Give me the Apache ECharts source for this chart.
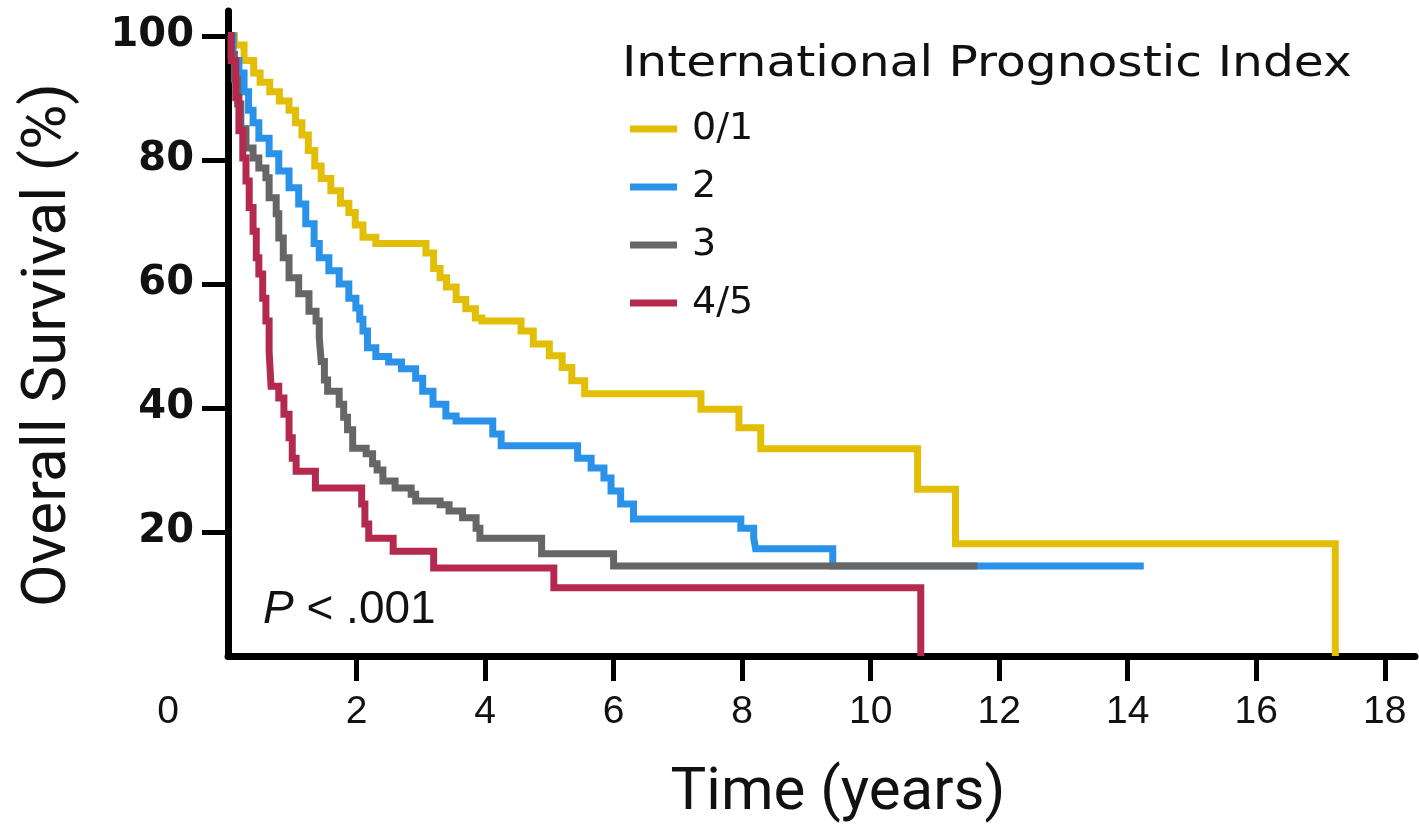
<!DOCTYPE html>
<html><head><meta charset="utf-8">
<script src="https://cdn.jsdelivr.net/npm/echarts@6/dist/echarts.min.js"></script>
<style>html,body{margin:0;padding:0;background:#fff}#c{width:1419px;height:829px}</style>
</head><body><div id="c"></div>
<script>
const xTicks = [2, 4, 6, 8, 10, 12, 14, 16, 18];
const yTicks = [20, 40, 60, 80, 100];
const groups = ['0/1', '2', '3', '4/5'];
const colors = ['#E3BE06', '#2A92E8', '#666666', '#B42A4F'];

const t01 = [0, 0.1, 0.25, 0.4, 0.5, 0.65, 0.8, 0.95, 1.05, 1.15, 1.25, 1.35, 1.45, 1.6, 1.75, 1.88, 1.98, 2.1, 2.3, 3.08, 3.2, 3.3, 3.4, 3.55, 3.7, 3.85, 3.95, 4.56, 4.75, 5.0, 5.2, 5.35, 5.55, 7.36, 7.95, 8.29, 10.73, 11.32, 17.23];
const s01 = [100, 98.5, 96, 94, 92.5, 91, 89.5, 88, 86, 84, 81.5, 79, 77, 75, 73, 71.5, 69.5, 67.5, 66.5, 65, 62.5, 61, 59.5, 57.5, 56, 54.5, 54, 52.4, 50.3, 48.4, 46.5, 44.4, 42.3, 39.8, 36.8, 33.4, 26.9, 18.1, 0];

const t2 = [0, 0.08, 0.17, 0.25, 0.32, 0.39, 0.48, 0.64, 0.79, 0.95, 1.1, 1.21, 1.34, 1.42, 1.57, 1.73, 1.88, 1.99, 2.05, 2.1, 2.17, 2.3, 2.5, 2.7, 2.92, 3.03, 3.19, 3.39, 3.55, 4.12, 4.25, 5.44, 5.65, 5.85, 5.96, 6.11, 6.31, 7.98, 8.18, 8.21, 9.41, 14.25];
const s2 = [100, 96, 94, 91, 88, 86, 83.5, 81, 78.2, 75.5, 72.9, 69.7, 66.5, 64.2, 62.1, 60, 57.7, 56.1, 54.3, 52.4, 49.7, 48.3, 47.4, 46.3, 44.8, 42.7, 40.6, 38.7, 37.9, 35.8, 33.9, 31.9, 30.3, 28.7, 26.6, 24.5, 22.1, 20.6, 19.0, 17.3, 14.5, 14.5];

const t3 = [0, 0.05, 0.1, 0.15, 0.2, 0.28, 0.39, 0.48, 0.59, 0.64, 0.75, 0.79, 0.86, 0.95, 1.1, 1.26, 1.37, 1.42, 1.45, 1.5, 1.55, 1.73, 1.8, 1.86, 1.94, 2.15, 2.25, 2.32, 2.41, 2.6, 2.85, 2.92, 3.3, 3.44, 3.65, 3.86, 3.92, 4.88, 6.0, 11.66];
const s3 = [100, 97, 93, 89, 85, 81.9, 80.3, 78.7, 77.1, 73.9, 71.3, 67.4, 64.2, 61, 58.4, 55.6, 54, 51.3, 47.5, 44.5, 42.7, 40.6, 38.5, 36.5, 33.5, 32.6, 31, 30, 28.2, 27.1, 26.1, 25, 24.4, 23.4, 22.3, 20.6, 19.0, 16.5, 14.5, 14.5];

const t45 = [0, 0.05, 0.12, 0.17, 0.23, 0.28, 0.33, 0.39, 0.44, 0.48, 0.54, 0.59, 0.64, 0.67, 0.79, 0.87, 0.95, 1.0, 1.06, 1.36, 2.08, 2.13, 2.19, 2.57, 3.2, 5.07, 10.78];
const s45 = [100, 96, 90, 84.7, 80.3, 76.6, 72.3, 68.5, 64.2, 61.6, 57.7, 54, 49, 43.5, 41.6, 39, 35.2, 31.9, 29.8, 27.1, 24.5, 21.3, 19.0, 16.9, 14.2, 11.0, 0];

const times = [t01, t2, t3, t45];
const surv = [s01, s2, s3, s45];

const chart = echarts.init(document.getElementById('c'), null, {renderer: 'canvas'});
const series = groups.map((g, i) => ({
  name: g,
  type: 'line',
  step: 'end',
  showSymbol: false,
  symbol: 'none',
  data: times[i].map((t, k) => [t, surv[i][k]]),
  lineStyle: {color: colors[i], width: 7, cap: 'butt', join: 'miter'},
  itemStyle: {color: colors[i]},
  emphasis: {disabled: true},
  z: 2 + i
}));

chart.setOption({
  animation: false,
  backgroundColor: '#fff',
  grid: {left: 228, right: 4, top: 11, bottom: 173, containLabel: false},
  xAxis: {
    type: 'value', min: 0, max: 18.47,
    axisLine: {show: true, onZero: false, lineStyle: {color: '#000', width: 7}},
    axisTick: {show: true, inside: false, length: 25, customValues: xTicks, lineStyle: {color: '#000', width: 5}},
    axisLabel: {customValues: xTicks, margin: 37, fontFamily: 'Liberation Sans', fontSize: 39, color: '#111'},
    splitLine: {show: false},
    name: 'Time (years)', nameLocation: 'middle', nameGap: 108,
    nameTextStyle: {fontFamily: 'Roboto', fontSize: 60, color: '#111', padding: [0, 0, 0, 33]}
  },
  yAxis: {
    type: 'value', min: 0, max: 104,
    axisLine: {show: true, onZero: false, lineStyle: {color: '#000', width: 7}},
    axisTick: {show: true, inside: false, length: 26, customValues: yTicks, lineStyle: {color: '#000', width: 5}},
    axisLabel: {customValues: yTicks, margin: 34, fontFamily: 'DejaVu Sans', fontWeight: 'bold', fontSize: 40, color: '#111'},
    splitLine: {show: false},
    name: 'Overall Survival (%)', nameLocation: 'middle', nameRotate: 90, nameGap: 148,
    nameTextStyle: {fontFamily: 'Roboto', fontSize: 62, color: '#111', padding: [0, 23, 0, 0]}
  },
  legend: {
    data: groups, orient: 'vertical', left: 625, top: 104,
    icon: 'rect', itemWidth: 47, itemHeight: 7, itemGap: 18,
    textStyle: {fontFamily: 'DejaVu Sans', fontSize: 38, lineHeight: 40, color: '#111', padding: [0, 0, 0, 10]},
    selectedMode: false
  },
  graphic: [
    {type: 'text', x: 622, y: 65, scaleX: 1.16,
     style: {text: 'International Prognostic Index', font: '42px "DejaVu Sans"', fill: '#111', align: 'left', verticalAlign: 'middle'}},
    {type: 'text', x: 263, y: 610,
     style: {text: '{i|P} < .001', fontFamily: 'Liberation Sans', fontSize: 46, fill: '#111', align: 'left', verticalAlign: 'middle',
       rich: {i: {fontStyle: 'italic', fontFamily: 'Liberation Sans', fontSize: 46, fill: '#111'}}}},
    {type: 'text', x: 168, y: 712,
     style: {text: '0', fontFamily: 'Liberation Sans', fontSize: 39, fill: '#111', align: 'center', verticalAlign: 'middle'}}
  ],
  series: series
});
</script></body></html>
